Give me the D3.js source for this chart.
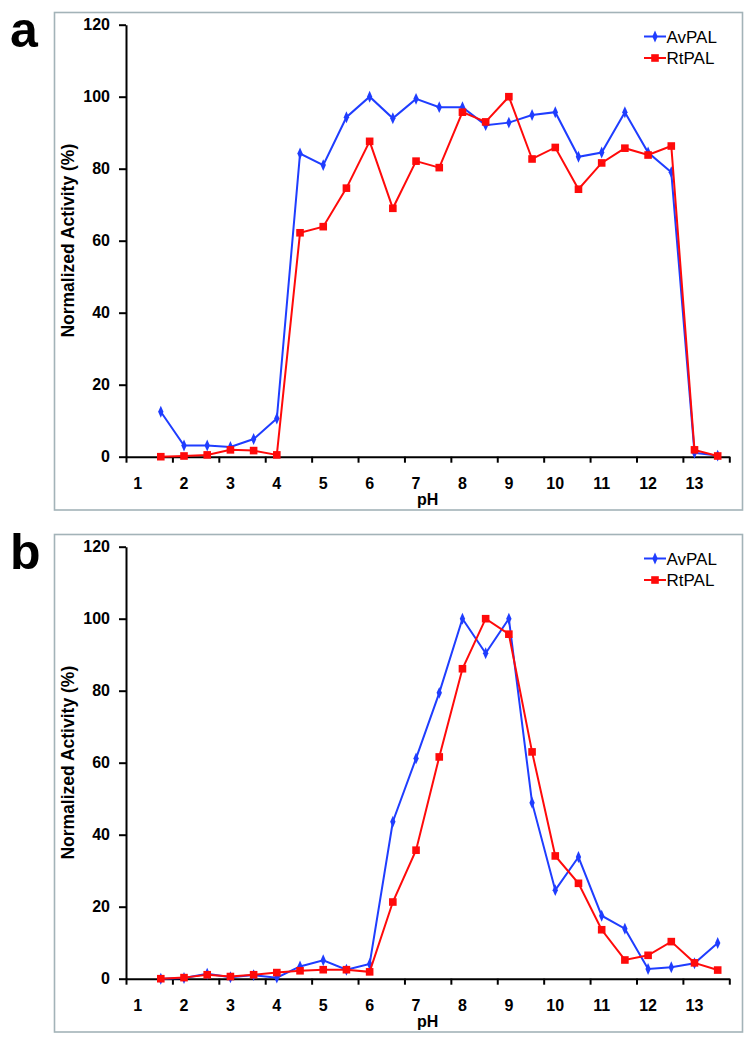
<!DOCTYPE html>
<html>
<head>
<meta charset="utf-8">
<script src="https://cdn.jsdelivr.net/npm/d3@7"></script>
<style>
  html, body { margin: 0; padding: 0; background: #fff; }
  svg { display: block; }
  text { font-family: "Liberation Sans", Arial, sans-serif; }
</style>
</head>
<body>
<svg id="chart" width="750" height="1040"></svg>
<script>
// ---------- data ----------
const pH = [1.5, 2, 2.5, 3, 3.5, 4, 4.5, 5, 5.5, 6, 6.5, 7, 7.5, 8, 8.5, 9, 9.5, 10, 10.5, 11, 11.5, 12, 12.5, 13, 13.5];

const avpalA = [12.5, 3.1, 3.1, 2.7, 4.9, 10.6, 84.2, 81.0, 94.3, 100, 94.0, 99.4, 97.1, 97.1, 92.1, 92.8, 94.9, 95.7, 83.3, 84.5, 95.7, 84.5, 79.0, 1.1, 0.3];
const rtpalA = [0, 0.2, 0.5, 1.9, 1.7, 0.5, 62.2, 63.9, 74.6, 87.6, 69.0, 82.1, 80.3, 95.7, 93.0, 100, 82.7, 85.9, 74.3, 81.6, 85.7, 83.8, 86.3, 1.9, 0.2];

const avpalB = [0, 0.2, 1.4, 0.4, 1.0, 0.3, 3.4, 5.1, 2.5, 4.1, 43.6, 61.2, 79.4, 100, 90.4, 100, 48.9, 24.6, 33.8, 17.5, 13.9, 2.7, 3.2, 4.3, 9.9];
const rtpalB = [0, 0.3, 1.1, 0.6, 1.1, 1.7, 2.2, 2.5, 2.5, 1.9, 21.3, 35.7, 61.6, 86.1, 100, 95.7, 63.0, 34.1, 26.5, 13.6, 5.2, 6.5, 10.3, 4.4, 2.4];

const yTicks = [0, 20, 40, 60, 80, 100, 120];
const xTickLabels = [1, 2, 3, 4, 5, 6, 7, 8, 9, 10, 11, 12, 13];
const xTickMarks = [0.75, 1.75, 2.75, 3.75, 4.75, 5.75, 6.75, 7.75, 8.75, 9.75, 10.75, 11.75, 12.75, 13.75];
const seriesNames = ["AvPAL", "RtPAL"];
const panelLetters = ["a", "b"];

// ---------- drawing ----------
const svg = d3.select("#chart");
const BLUE = "#1f3dff", RED = "#ff0a0a";

const x = d3.scaleLinear().domain([0.75, 13.75]).range([126, 729.3]);
const y = d3.scaleLinear().domain([0, 120]).range([456.7, 24.7]);

const panels = [
  { letter: panelLetters[0], av: avpalA, rt: rtpalA, dy: 0 },
  { letter: panelLetters[1], av: avpalB, rt: rtpalB, dy: 522 }
];

const diamond = d3.symbol().type(d3.symbolDiamond).size(34);

panels.forEach(p => {
  const g = svg.append("g").attr("transform", `translate(0,${p.dy})`);

  // frame
  g.append("rect")
    .attr("x", 54.5).attr("y", 12.5)
    .attr("width", 688).attr("height", 497.5)
    .attr("fill", "none").attr("stroke", "#a3b3b8").attr("stroke-width", 1.6);

  // panel letter
  g.append("text").attr("x", 10).attr("y", 46.5)
    .attr("font-size", 50).attr("font-weight", "bold").text(p.letter);

  // y axis
  const ya = g.append("g").attr("transform", "translate(126,0)")
    .call(d3.axisLeft(y).tickValues(yTicks).tickSize(7).tickSizeOuter(0).tickPadding(9));
  ya.select(".domain").attr("stroke", "#000").attr("stroke-width", 2);
  ya.selectAll(".tick line").attr("stroke", "#000").attr("stroke-width", 2);
  ya.selectAll(".tick text").attr("font-size", 16).attr("font-weight", "bold")
    .attr("font-family", "Liberation Sans, Arial, sans-serif").attr("fill", "#000");

  // x axis (tick marks between categories)
  const xa = g.append("g").attr("transform", `translate(0,${y(0)})`)
    .call(d3.axisBottom(x).tickValues(xTickMarks).tickSize(6).tickSizeOuter(0).tickFormat(""));
  xa.select(".domain").attr("stroke", "#000").attr("stroke-width", 2);
  xa.selectAll(".tick line").attr("stroke", "#000").attr("stroke-width", 2);

  // x labels
  g.append("g").selectAll("text").data(xTickLabels).join("text")
    .attr("x", d => x(d)).attr("y", 489)
    .attr("text-anchor", "middle").attr("font-size", 16).attr("font-weight", "bold")
    .text(d => d);

  // axis titles
  g.append("text").attr("x", (x.range()[0] + x.range()[1]) / 2).attr("y", 505)
    .attr("text-anchor", "middle").attr("font-size", 16).attr("font-weight", "bold").text("pH");
  g.append("text")
    .attr("transform", `translate(74,${(y(0) + y(120)) / 2}) rotate(-90)`)
    .attr("text-anchor", "middle").attr("font-size", 17.5).attr("font-weight", "bold")
    .text("Normalized Activity (%)");

  // lines
  const line = d3.line().x((d, i) => x(pH[i])).y(d => y(d));
  g.append("path").datum(p.av).attr("d", line)
    .attr("fill", "none").attr("stroke", BLUE).attr("stroke-width", 2);
  g.append("g").selectAll("path").data(p.av).join("path")
    .attr("transform", (d, i) => `translate(${x(pH[i])},${y(d)}) scale(0.85,1.1)`)
    .attr("d", diamond).attr("fill", BLUE);

  g.append("path").datum(p.rt).attr("d", line)
    .attr("fill", "none").attr("stroke", RED).attr("stroke-width", 2);
  g.append("g").selectAll("rect").data(p.rt).join("rect")
    .attr("x", (d, i) => x(pH[i]) - 3.8).attr("y", d => y(d) - 3.8)
    .attr("width", 7.6).attr("height", 7.6).attr("fill", RED);

  // legend
  const lg = g.append("g");
  const legendRows = [{ name: seriesNames[0], color: BLUE, yy: 36.5, type: "d" },
                      { name: seriesNames[1], color: RED, yy: 58, type: "s" }];
  legendRows.forEach(r => {
    lg.append("line").attr("x1", 644).attr("x2", 666).attr("y1", r.yy).attr("y2", r.yy)
      .attr("stroke", r.color).attr("stroke-width", 2);
    if (r.type === "d") {
      lg.append("path").attr("transform", `translate(655,${r.yy}) scale(0.85,1.1)`)
        .attr("d", diamond).attr("fill", r.color);
    } else {
      lg.append("rect").attr("x", 651.2).attr("y", r.yy - 3.8).attr("width", 7.6).attr("height", 7.6)
        .attr("fill", r.color);
    }
    lg.append("text").attr("x", 666.5).attr("y", r.yy + 6).attr("font-size", 17).text(r.name);
  });
});
</script>
</body>
</html>
